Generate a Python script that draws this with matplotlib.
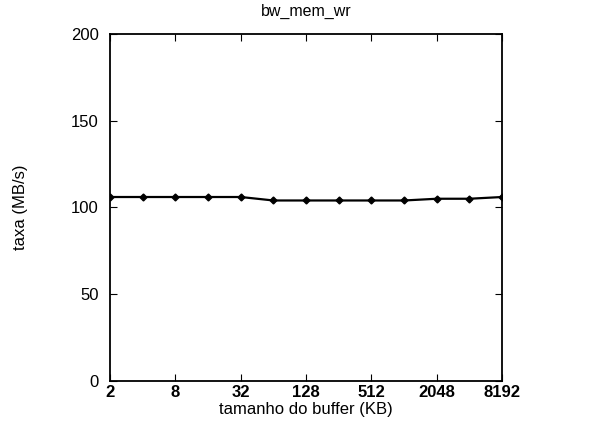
import matplotlib
matplotlib.use('Agg')
import matplotlib.pyplot as plt

# tamanho do buffer (KB) e taxa (MB/s)
buffer_kb = [2, 4, 8, 16, 32, 64, 128, 256, 512, 1024, 2048, 4096, 8192]
taxa = [106, 106, 106, 106, 106, 104, 104, 104, 104, 104, 105, 105, 106]
xticks = [2, 8, 32, 128, 512, 2048, 8192]
yticks = [0, 50, 100, 150, 200]

plt.rcParams['font.family'] = ['Liberation Sans', 'DejaVu Sans']

fig = plt.figure(figsize=(6.05, 4.29), dpi=100)
ax = fig.add_axes([0.182, 0.112, 0.648, 0.809])

ax.plot(buffer_kb, taxa, color='black', lw=1.6, marker='D', ms=3.5)

ax.set_xscale('log', base=2)
ax.set_xlim(2, 8192)
ax.set_ylim(0, 200)
ax.set_xticks(xticks)
ax.set_xticklabels([str(v) for v in xticks])
ax.minorticks_off()
ax.set_yticks(yticks)
ax.tick_params(direction='in', top=True, right=True, labelsize=12, length=5)
ax.tick_params(axis='y', pad=8)
ax.tick_params(axis='x', pad=3)
for lab in ax.get_xticklabels():
    lab.set_fontweight('bold')
for s in ax.spines.values():
    s.set_linewidth(1.3)

ax.set_title('bw_mem_wr', fontsize=11.5, pad=13)
ax.set_xlabel('tamanho do buffer (KB)', fontsize=12, labelpad=1)
ax.set_ylabel('taxa (MB/s)', fontsize=12, labelpad=31)

fig.savefig('out.png', dpi=100)
